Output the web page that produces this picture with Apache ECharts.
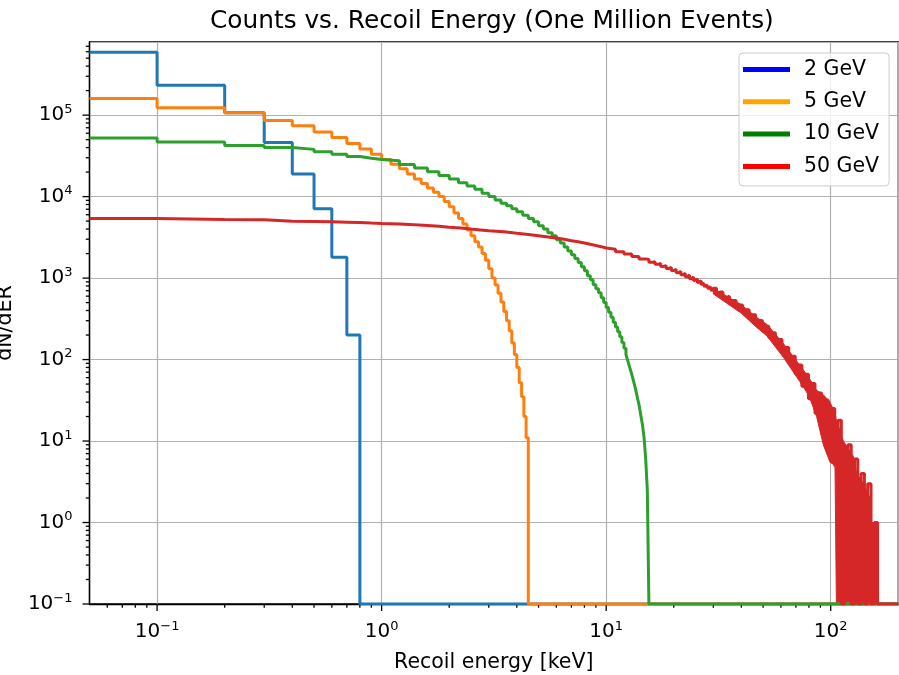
<!DOCTYPE html>
<html>
<head>
<meta charset="utf-8">
<title>Counts vs. Recoil Energy</title>
<script src="https://cdn.jsdelivr.net/npm/echarts@6/dist/echarts.min.js"></script>
<style>
html, body { margin: 0; padding: 0; background: #fff; }
#chart { width: 899px; height: 675px; }
</style>
</head>
<body>
<div id="chart"></div>
<script>
// step histograms: left bin edge (keV) and counts of that bin, 0 = empty bin
var blueEdges = [0.05, 0.1, 0.2, 0.3, 0.4, 0.5, 0.6, 0.7, 0.8, 200];
var blueCounts = [593000, 233000, 107000, 46000, 18900, 7100, 1800, 200, 0, 0];

var orangeEdges = [0.05, 0.1, 0.2, 0.3, 0.4, 0.5, 0.6, 0.7, 0.8, 0.9,
  1.0, 1.1, 1.2, 1.3, 1.4, 1.5, 1.6, 1.7, 1.8, 1.9,
  2.0, 2.1, 2.2, 2.3, 2.4, 2.5, 2.6, 2.7, 2.8, 2.9,
  3.0, 3.1, 3.2, 3.3, 3.4, 3.5, 3.6, 3.7, 3.8, 3.9,
  4.0, 4.1, 4.2, 4.3, 4.4, 4.5, 200];
var orangeCounts = [160000, 123000, 107000, 86000, 74000, 62000, 53000, 45000, 38500, 33000,
  28500, 25000, 22000, 19000, 16500, 14500, 12800, 11300, 10000, 8700,
  7500, 6300, 5400, 4600, 3900, 3300, 2800, 2400, 2000, 1650,
  1300, 1000, 820, 650, 510, 390, 300, 225, 160, 115,
  80, 52, 35, 20, 11, 0, 0];

var greenEdges = [0.05, 0.1, 0.2, 0.3, 0.4, 0.5, 0.6, 0.7, 0.8, 0.9,
  1.0, 1.2, 1.4, 1.6, 1.8, 2.0, 2.2, 2.4, 2.6, 2.8, 3.0, 3.2, 3.4, 3.6, 3.8,
  4.0, 4.25, 4.5, 4.75, 5.0, 5.25, 5.5, 5.75, 6.0, 6.25, 6.5, 6.75,
  7.0, 7.25, 7.5, 7.75, 8.0, 8.25, 8.5, 8.75, 9.0, 9.25, 9.5, 9.75,
  10.0, 10.25, 10.5, 10.75, 11.0, 11.25, 11.5, 11.75, 12.0, 12.25, 12.5, 12.75,
  13.0, 13.25, 13.5, 13.75, 14.0, 14.25, 14.5, 14.75, 15.0, 15.25, 15.5, 200];
var greenCounts = [52500, 46700, 42500, 40000, 38000, 35500, 33000, 31000, 29500, 28500,
  27500, 24800, 22400, 20200, 18200, 16400, 14800, 13500, 12300, 11000, 10000, 9100, 8300, 7700, 7100,
  6500, 5900, 5400, 4900, 4400, 4000, 3600, 3300, 2950, 2700, 2400, 2150,
  1930, 1740, 1550, 1380, 1230, 1070, 955, 830, 740, 660, 575, 500,
  436, 380, 331, 288, 251, 219, 190, 162, 138, 115, 95, 79,
  66, 54, 44, 35, 28, 21, 16, 11, 6, 2.5, 0, 0];

// 50 GeV: merged bins for the step line
var redEdges = [0.05, 0.1, 0.2, 0.3, 0.4, 0.5, 0.6, 0.7, 0.8, 0.9,
  1.0, 1.2, 1.4, 1.6, 1.8, 2.0, 2.25, 2.5, 2.75, 3.0, 3.5, 4.0, 4.5, 5.0, 5.5,
  6.0, 6.5, 7.0, 7.5, 8.0, 8.5, 9.0, 9.5, 10, 11, 12, 13, 14,
  15, 15.5, 16, 16.5, 17, 17.5, 18, 18.5, 19, 19.5, 20, 20.5, 21, 21.5, 22, 22.5,
  23, 23.5, 24, 24.5, 25, 25.5, 26, 26.5, 27, 27.5, 28, 28.5, 29, 29.5,
  30, 31, 32, 33.1, 34.2, 35.4, 36.6, 37.9, 39.2, 40.5,
  41.9, 43.3, 44.8, 46.3, 47.9, 49.6, 51.3, 53, 54.8, 56.7,
  58.7, 60.7, 62.8, 65, 67.2, 69.5, 71.9, 74.4, 76.9, 79.6,
  82.3, 85.1, 88, 91, 94.2, 97.4, 100.7, 104.2,
  107.8, 111.5, 115.4, 119.3, 123.4, 127.7, 132, 136.6, 141.3, 146.1,
  151.2, 156.4, 161.7, 200];
var redCounts = [5400, 5250, 5200, 5000, 4950, 4900, 4850, 4800, 4730, 4680,
  4620, 4520, 4420, 4320, 4220, 4120, 4000, 3900, 3800, 3700, 3550, 3430, 3300, 3200, 3100,
  2990, 2880, 2790, 2690, 2600, 2510, 2430, 2340, 2260, 2110, 1970, 1840, 1720,
  1690, 1560, 1590, 1475, 1510, 1390, 1425, 1315, 1355, 1240, 1285, 1165, 1210, 1100, 1150, 1040,
  1090, 985, 1030, 925, 975, 875, 925, 825, 875, 780, 830, 735, 790, 695,
  750, 634, 675, 568, 600, 502, 532, 437, 466, 375,
  408, 321, 355, 272, 302, 226, 256, 187, 214, 153,
  176, 120, 141, 90, 110, 67, 86, 47, 66, 33,
  51, 22, 39, 13, 32, 7, 25, 5,
  18, 0, 1, 9, 0, 6, 0, 4, 0, 3,
  0, 1, 0, 0];

// 50 GeV: upper / lower edge of the noisy band where bins are far narrower than a pixel
var redBandX = [30, 40, 46.7, 52, 61.8, 72.7, 80, 86.5, 92.7, 99.3,
  104.5, 106, 113.8, 120, 126.1, 130.5, 139.7, 149.6, 152, 161.7];
var redBandHigh = [750, 470, 330, 270, 155, 86, 60, 42, 37, 30,
  22, 18, 10, 8, 6.5, 4, 3, 2, 1, 1];
var redBandLow = [640, 370, 250, 195, 105, 54, 36, 20, 9, 5.5,
  5, 0, 0, 0, 0, 0, 0, 0, 0, 0];

var seriesNames = ['2 GeV', '5 GeV', '10 GeV', '50 GeV'];
var lineColors = ['#1f77b4', '#ff7f0e', '#2ca02c', '#d62728'];
var legendColors = ['#0000ff', '#ffa500', '#008000', '#ff0000'];

var xMin = 0.05, xMax = 200, yMin = 0.1, yMax = 790000;
var xMajor = [0.1, 1, 10, 100];
var yMajor = [0.1, 1, 10, 100, 1000, 10000, 100000];
var mantissas = [2, 3, 4, 5, 6, 7, 8, 9];

var FONT = 'DejaVu Sans';
var MAJOR_LEN = 7, MINOR_LEN = 3.7;

function minorTicks(lo, hi) {
  var out = [];
  for (var d = Math.floor(Math.log10(lo)); d <= Math.ceil(Math.log10(hi)); d++) {
    for (var k = 0; k < mantissas.length; k++) {
      var v = mantissas[k] * Math.pow(10, d);
      if (v > lo && v < hi) out.push(v);
    }
  }
  return out;
}

// empty bins sit on the bottom of the log axis (matplotlib clips them there)
function floorZero(v) {
  return v > 0 ? v : yMin;
}

function toPairs(edges, counts) {
  return edges.map(function (x, i) {
    return [x, floorZero(counts[i])];
  });
}

function powLabel(v) {
  var e = Math.round(Math.log10(v));
  return '{b|10}{s|' + (e < 0 ? '\u2212' + (-e) : e) + '}';
}

var labelRich = {
  b: { fontFamily: FONT, fontSize: 20, lineHeight: 24, color: '#000' },
  s: { fontFamily: FONT, fontSize: 13, lineHeight: 14, verticalAlign: 'top', color: '#000' }
};
var black = { color: '#000', width: 1.3 };

var allEdges = [blueEdges, orangeEdges, greenEdges, redEdges];
var allCounts = [blueCounts, orangeCounts, greenCounts, redCounts];

var stepSeries = seriesNames.map(function (name, i) {
  return {
    type: 'line',
    name: name,
    step: 'end',
    data: toPairs(allEdges[i], allCounts[i]),
    showSymbol: false,
    symbol: 'none',
    clip: true,
    lineStyle: { color: lineColors[i], width: 3 },
    itemStyle: { color: lineColors[i] },
    emphasis: { disabled: true }
  };
});

var redBand = {
  type: 'custom',
  name: '50 GeV',
  clip: true,
  silent: true,
  itemStyle: { color: lineColors[3] },
  data: redBandX.map(function (x, i) { return [x, redBandHigh[i], floorZero(redBandLow[i])]; }),
  renderItem: function (params, api) {
    if (params.dataIndex !== 0) return null;
    var top = [], bottom = [];
    for (var i = 0; i < redBandX.length; i++) {
      top.push(api.coord([redBandX[i], redBandHigh[i]]));
      bottom.push(api.coord([redBandX[i], floorZero(redBandLow[i])]));
    }
    return {
      type: 'polygon',
      shape: { points: top.concat(bottom.reverse()) },
      style: { fill: lineColors[3], stroke: lineColors[3], lineWidth: 1 }
    };
  }
};

// outward tick marks (major + 2..9 minor) placed through the log scales
var tickData = [];
xMajor.forEach(function (v) { tickData.push([v, yMin, MAJOR_LEN, 0]); });
minorTicks(xMin, xMax).forEach(function (v) { tickData.push([v, yMin, MINOR_LEN, 0]); });
yMajor.forEach(function (v) { tickData.push([xMin, v, MAJOR_LEN, 1]); });
minorTicks(yMin, yMax).forEach(function (v) { tickData.push([xMin, v, MINOR_LEN, 1]); });

var tickSeries = {
  type: 'custom',
  clip: false,
  silent: true,
  data: tickData,
  renderItem: function (params, api) {
    var p = api.coord([api.value(0), api.value(1)]);
    var len = api.value(2);
    var shape = api.value(3) === 0
      ? { x1: p[0], y1: p[1], x2: p[0], y2: p[1] + len }
      : { x1: p[0] - len, y1: p[1], x2: p[0], y2: p[1] };
    return { type: 'line', shape: shape, style: { stroke: '#000', lineWidth: 1.3 } };
  }
};

// blue, orange, green lines, the red band under the red line, then the ticks
var series = stepSeries.slice(0, 3).concat([redBand, stepSeries[3], tickSeries]);

function logAxis(min, max, major, margin) {
  return {
    type: 'log', min: min, max: max,
    axisLine: { show: true, onZero: false, lineStyle: black },
    axisTick: { show: false },
    minorTick: { show: false },
    minorSplitLine: { show: false },
    axisLabel: { customValues: major, formatter: powLabel, rich: labelRich, margin: margin },
    splitLine: { show: true, lineStyle: { color: '#b0b0b0', width: 1.2 } }
  };
}

var xAxis = logAxis(xMin, xMax, xMajor, 16);
xAxis.position = 'bottom';
var yAxis = logAxis(yMin, yMax, yMajor, 17);
yAxis.position = 'left';

var nameStyle = { fontFamily: FONT, fontSize: 20.5, fill: '#000', align: 'center', verticalAlign: 'middle' };

var chart = echarts.init(document.getElementById('chart'));
chart.setOption({
  animation: false,
  backgroundColor: '#fff',
  title: {
    text: 'Counts vs. Recoil Energy (One Million Events)',
    left: 205,
    top: 4,
    textStyle: { fontFamily: FONT, fontSize: 24.8, fontWeight: 'normal', color: '#000' }
  },
  legend: {
    orient: 'vertical',
    left: 739,
    top: 53,
    padding: [6, 10, 9, 4],
    itemGap: 11.3,
    itemWidth: 47,
    itemHeight: 5,
    icon: 'rect',
    backgroundColor: 'rgba(255,255,255,0.8)',
    borderColor: '#cccccc',
    borderWidth: 1,
    borderRadius: 4,
    textStyle: { fontFamily: FONT, fontSize: 20.5, color: '#000', lineHeight: 20, padding: [0, 0, 0, 9] },
    data: seriesNames.map(function (n, i) {
      return { name: n, itemStyle: { color: legendColors[i], borderWidth: 0 } };
    })
  },
  grid: {
    left: 89.5, right: 0.7, top: 42, bottom: 71,
    show: true,
    borderColor: '#000',
    borderWidth: 1.3
  },
  // axis titles as free text so the y title may run off the left edge like the original
  graphic: [{
    type: 'text', x: 493.8, y: 663,
    style: Object.assign({ text: 'Recoil energy [keV]' }, nameStyle)
  }, {
    type: 'text', x: 6, y: 323, rotation: Math.PI / 2,
    style: Object.assign({ text: 'dN/dER' }, nameStyle)
  }],
  xAxis: xAxis,
  yAxis: yAxis,
  series: series
});
</script>
</body>
</html>
